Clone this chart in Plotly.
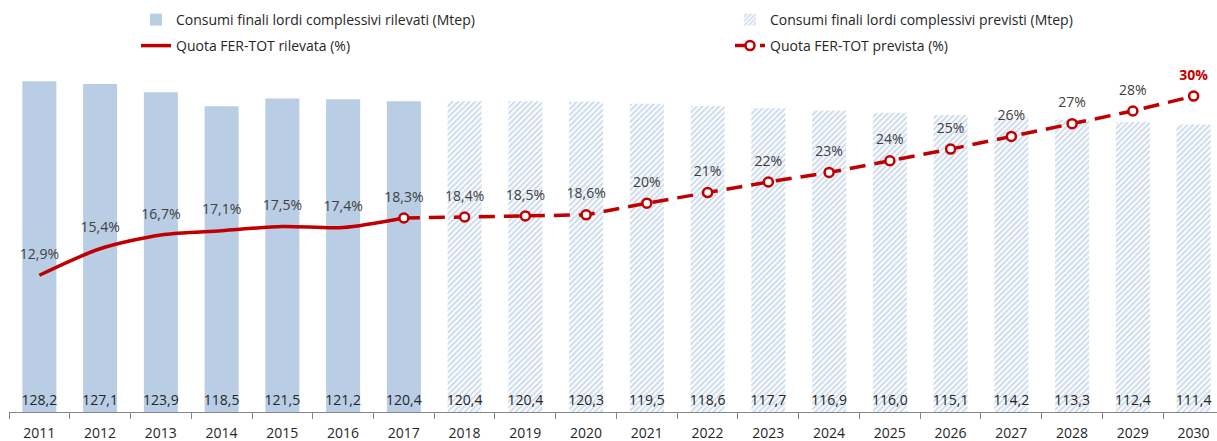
import plotly.graph_objects as go

years = [str(y) for y in range(2011, 2031)]
years_ril = years[:7]          # 2011-2017
years_prev = years[7:]         # 2018-2030
cons_ril = [128.2, 127.1, 123.9, 118.5, 121.5, 121.2, 120.4]
cons_prev = [120.4, 120.4, 120.3, 119.5, 118.6, 117.7, 116.9, 116.0, 115.1, 114.2, 113.3, 112.4, 111.4]

line_years_ril = years[:7]     # 2011-2017
pct_ril = [12.9, 15.4, 16.7, 17.1, 17.5, 17.4, 18.3]
line_years_prev = years[6:]    # 2017-2030
pct_prev = [18.3, 18.4, 18.5, 18.6, 19.7, 20.7, 21.7, 22.6, 23.7, 24.8, 26.0, 27.2, 28.4, 29.8]
pct_labels = ["12,9%", "15,4%", "16,7%", "17,1%", "17,5%", "17,4%", "18,3%", "18,4%", "18,5%", "18,6%",
              "20%", "21%", "22%", "23%", "24%", "25%", "26%", "27%", "28%", "30%"]

FONT = "Open Sans"
FS = 14
RED = "#C00000"
BLUE = "#B9CDE5"
TXT = "#262626"


def fmt(v):
    return f"{v:.1f}".replace(".", ",")


bar_text = dict(textposition="inside", insidetextanchor="start", textangle=0, constraintext="none",
                insidetextfont=dict(family=FONT, size=FS, color=TXT), cliponaxis=False)

fig = go.Figure()
fig.add_trace(go.Bar(
    x=years_ril, y=cons_ril, name="Consumi finali lordi complessivi rilevati (Mtep)",
    text=[fmt(v) for v in cons_ril], **bar_text,
    marker=dict(color=BLUE, line=dict(width=0)), legend="legend", hoverinfo="skip"))
fig.add_trace(go.Bar(
    x=years_prev, y=cons_prev, name="Consumi finali lordi complessivi previsti (Mtep)",
    text=[fmt(v) for v in cons_prev], **bar_text,
    marker=dict(color="white", line=dict(width=0),
                pattern=dict(shape="/", fgcolor="#9AB5DA", bgcolor="white", size=4, solidity=0.5)),
    legend="legend2", hoverinfo="skip"))
fig.add_trace(go.Scatter(
    x=line_years_ril, y=pct_ril, name="Quota FER-TOT rilevata (%)", yaxis="y2", mode="lines",
    line=dict(color=RED, width=3.5, shape="spline", smoothing=0.8), legend="legend3", hoverinfo="skip"))
fig.add_trace(go.Scatter(
    x=line_years_prev, y=pct_prev, name="Quota FER-TOT prevista (%)", yaxis="y2", mode="lines+markers",
    line=dict(color=RED, width=3.5, dash="16px,9px"),
    marker=dict(symbol="circle", size=9, color="white", line=dict(color=RED, width=2.5)),
    legend="legend4", hoverinfo="skip"))

# percentage labels (text-only trace, invisible markers set the offset above each point)
all_pct = pct_ril[:-1] + pct_prev
lab_txt = [("<b>%s</b>" % l) if y == years[-1] else l for y, l in zip(years, pct_labels)]
lab_col = [RED if y == years[-1] else "#404040" for y in years]
fig.add_trace(go.Scatter(
    x=years, y=all_pct, yaxis="y2", mode="markers+text", text=lab_txt, textposition="top center",
    textfont=dict(family=FONT, size=FS, color=lab_col),
    marker=dict(size=19, opacity=0), showlegend=False, hoverinfo="skip", cliponaxis=False))

PLOT_TOP = 70
PLOT_H = 342
PLOT_L = 9
PLOT_W = 1217 - PLOT_L


def px2x(p):
    return (p - PLOT_L) / PLOT_W


def py2y(p):
    return 1 + (PLOT_TOP - p) / PLOT_H


def leg(xpx, ypx):
    return dict(orientation="h", x=px2x(xpx), xanchor="left", y=py2y(ypx), yanchor="middle",
                font=dict(family=FONT, size=FS, color=TXT), bgcolor="rgba(0,0,0,0)")


hidden_y = dict(visible=True, showticklabels=False, showgrid=False, zeroline=False, showline=False,
                ticks="", fixedrange=True)

fig.update_layout(
    width=1217, height=441,
    margin=dict(l=PLOT_L, r=0, t=PLOT_TOP, b=441 - PLOT_TOP - PLOT_H, autoexpand=False),
    paper_bgcolor="white", plot_bgcolor="white",
    barmode="overlay", bargap=0.44,
    font=dict(family=FONT, size=FS, color=TXT),
    showlegend=True,
    legend=leg(136, 20),
    legend2=leg(730, 20),
    legend3=leg(136, 46),
    legend4=leg(730, 46),
    xaxis=dict(type="category", categoryorder="array", categoryarray=years,
               range=[-0.5, 19.385], tickson="boundaries", ticks="outside", ticklen=6,
               tickcolor="#868686", showline=True, linecolor="#868686", linewidth=1,
               showgrid=False, zeroline=False, ticklabelstandoff=8, automargin=False,
               tickfont=dict(family=FONT, size=FS, color=TXT), fixedrange=True),
    yaxis=dict(range=[0, PLOT_H / 2.58], **hidden_y),
    yaxis2=dict(range=[0, PLOT_H / 10.6], overlaying="y", **hidden_y),
)

fig.write_html("out.html", post_script="document.body.style.margin='0';",
               config={"displayModeBar": False})
